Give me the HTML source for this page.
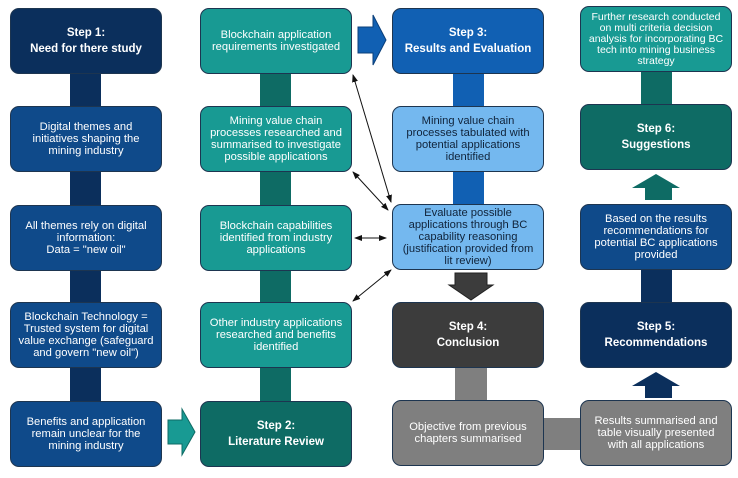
<!DOCTYPE html>
<html><head><meta charset="utf-8"><style>
body{margin:0;width:738px;height:478px;background:#fff;position:relative;overflow:hidden;font-family:"Liberation Sans",Arial,sans-serif}
.b{position:absolute;width:152px;height:66px;border-radius:9px;border:1px solid #1d3550;box-sizing:border-box;color:#fff;font-size:11.2px;line-height:12px;display:flex;align-items:center;justify-content:center;text-align:center;padding:0 6px}
.s{font-weight:bold;font-size:11.5px;line-height:16px}
.c{position:absolute;width:31px}
.lt{color:#10233a}
</style></head><body>
<!-- connectors -->
<div class="c" style="left:70px;top:70px;height:340px;background:#0b2f5c"></div>
<div class="c" style="left:260px;top:70px;height:340px;background:#0e6b64"></div>
<div class="c" style="left:453px;top:70px;height:140px;background:#1160b3"></div>
<div class="c" style="left:455px;top:365px;height:40px;background:#7f7f7f;width:32px"></div>
<div style="position:absolute;left:540px;top:418px;width:44px;height:32px;background:#7f7f7f"></div>
<div class="c" style="left:641px;top:70px;height:40px;background:#0e6b64"></div>
<div class="c" style="left:641px;top:265px;height:40px;background:#0b2f5c"></div>

<!-- col1 -->
<div class="b s" style="left:10px;top:8px;background:#0b2f5c">Step 1:<br>Need for there study</div>
<div class="b" style="left:10px;top:106px;background:#0f4a8a">Digital themes and initiatives shaping the mining industry</div>
<div class="b" style="left:10px;top:205px;background:#0f4a8a">All themes rely on digital information:<br>Data = "new oil"</div>
<div class="b" style="left:10px;top:302px;background:#0f4a8a">Blockchain Technology = Trusted system for digital value exchange (safeguard and govern "new oil")</div>
<div class="b" style="left:10px;top:401px;background:#0f4a8a">Benefits and application remain unclear for the mining industry</div>
<!-- col2 -->
<div class="b" style="left:200px;top:8px;background:#189a93">Blockchain application requirements investigated</div>
<div class="b" style="left:200px;top:106px;background:#189a93">Mining value chain processes researched and summarised to investigate possible applications</div>
<div class="b" style="left:200px;top:205px;background:#189a93">Blockchain capabilities identified from industry applications</div>
<div class="b" style="left:200px;top:302px;background:#189a93">Other industry applications researched and benefits identified</div>
<div class="b s" style="left:200px;top:401px;background:#0e6b64">Step 2:<br>Literature Review</div>
<!-- col3 -->
<div class="b s" style="left:392px;top:8px;background:#1160b3">Step 3:<br>Results and Evaluation</div>
<div class="b lt" style="left:392px;top:106px;background:#74b8ef">Mining value chain processes tabulated with potential applications identified</div>
<div class="b lt" style="left:392px;top:204px;background:#74b8ef">Evaluate possible applications through BC capability reasoning (justification provided from lit review)</div>
<div class="b s" style="left:392px;top:302px;background:#3c3c3c">Step 4:<br>Conclusion</div>
<div class="b" style="left:392px;top:400px;background:#7f7f7f">Objective from previous chapters summarised</div>
<!-- col4 -->
<div class="b" style="left:580px;top:6px;background:#189a93;font-size:10.5px;line-height:11px">Further research conducted on multi criteria decision analysis for incorporating BC tech into mining business strategy</div>
<div class="b s" style="left:580px;top:104px;background:#0e6b64">Step 6:<br>Suggestions</div>
<div class="b" style="left:580px;top:204px;background:#0f4a8a">Based on the results recommendations for potential BC applications provided</div>
<div class="b s" style="left:580px;top:302px;background:#0b2f5c">Step 5:<br>Recommendations</div>
<div class="b" style="left:580px;top:400px;background:#7f7f7f">Results summarised and table visually presented with all applications</div>

<svg width="738" height="478" style="position:absolute;left:0;top:0">
<defs><marker id="a" markerWidth="8" markerHeight="8" refX="7" refY="4" orient="auto-start-reverse" markerUnits="userSpaceOnUse"><path d="M0,1 L8,4 L0,7z" fill="#111"/></marker></defs>
<polygon points="358,27 373,27 373,15 386,40 373,65 373,53 358,53" fill="#1160b3" stroke="#0b3f7a"/>
<polygon points="168,420 182,420 182,409 195,432 182,455 182,444 168,444" fill="#189a93" stroke="#0e6b64"/>
<polygon points="455,273 487,273 487,285 493,285 471,300 449,285 455,285" fill="#3c3c3c" stroke="#222"/>
<polygon points="632,188 656,174 680,188 672,188 672,200 645,200 645,188" fill="#0e6b64"/>
<polygon points="632,386 656,372 680,386 672,386 672,398 645,398 645,386" fill="#0b2f5c"/>
<g stroke="#111" stroke-width="1" marker-start="url(#a)" marker-end="url(#a)">
<line x1="353" y1="75" x2="391" y2="202"/>
<line x1="353" y1="172" x2="388" y2="210"/>
<line x1="355" y1="238" x2="386" y2="238"/>
<line x1="391" y1="270" x2="353" y2="301"/>
</g>
</svg>
</body></html>
